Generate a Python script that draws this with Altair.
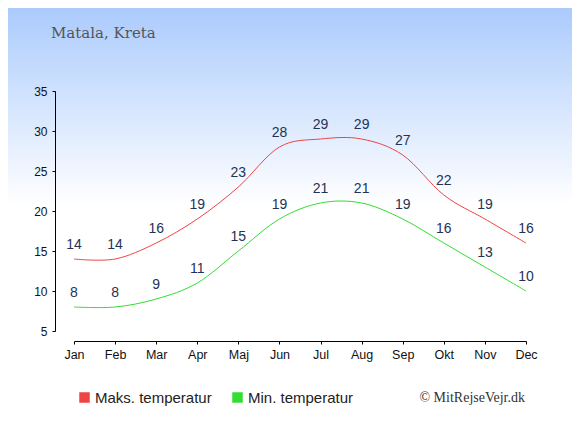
import altair as alt
import pandas as pd

months = ["Jan", "Feb", "Mar", "Apr", "Maj", "Jun", "Jul", "Aug", "Sep", "Okt", "Nov", "Dec"]
max_temp = [14, 14, 16, 19, 23, 28, 29, 29, 27, 22, 19, 16]
min_temp = [8, 8, 9, 11, 15, 19, 21, 21, 19, 16, 13, 10]
series_names = ["Maks. temperatur", "Min. temperatur"]
series_colors = ["#ee4444", "#33dd33"]
y_ticks = [5, 10, 15, 20, 25, 30, 35]
title_text = "Matala, Kreta"
credit_text = "\u00a9 MitRejseVejr.dk"

rows = []
for i, (m, hi, lo) in enumerate(zip(months, max_temp, min_temp)):
    rows.append({"i": i, "month": m, "temp": hi, "series": series_names[0]})
    rows.append({"i": i, "month": m, "temp": lo, "series": series_names[1]})
df = pd.DataFrame(rows)

W, H = 472, 240
PAD_L, PAD_T = 47, 83
TOTAL_W, TOTAL_H = 564, 419

label_expr = "[" + ",".join(f"'{m}'" for m in months) + "][datum.value]"

x_enc = alt.X(
    "i:Q",
    scale=alt.Scale(domain=[0, 11], range=[19, 471], nice=False, zero=False),
    axis=alt.Axis(values=list(range(12)), labelExpr=label_expr, title=None, grid=False,
                  offset=10, tickSize=3, domainColor="#000", tickColor="#000",
                  labelColor="#111", labelFontSize=12.5, labelFont="Liberation Sans",
                  labelPadding=4, labelFlush=False, labelOverlap=False, zindex=2),
)
y_enc = alt.Y(
    "temp:Q",
    scale=alt.Scale(domain=[5, 35], nice=False, zero=False),
    axis=alt.Axis(values=y_ticks, title=None, grid=False, tickSize=3,
                  domainColor="#000", tickColor="#000", labelColor="#111",
                  labelFontSize=12, labelFont="Liberation Sans", labelPadding=5,
                  labelFlush=False, labelOverlap=False, zindex=2),
)

base = alt.Chart(df).encode(x=x_enc, y=y_enc)

bg = alt.Chart(alt.Data(values=[{}])).mark_rect(
    fill=alt.Gradient(
        gradient="linear",
        stops=[alt.GradientStop(offset=0, color="#abcbfc"),
               alt.GradientStop(offset=0.47, color="#ffffff"),
               alt.GradientStop(offset=1, color="#ffffff")],
        x1=0, x2=0, y1=0, y2=1,
    ),
).encode(
    x=alt.value(-PAD_L), x2=alt.value(TOTAL_W - PAD_L),
    y=alt.value(-PAD_T), y2=alt.value(TOTAL_H - PAD_T),
)

lines = base.mark_line(interpolate="cardinal").encode(
    strokeWidth=alt.value(1),
    color=alt.Color(
        "series:N",
        scale=alt.Scale(domain=series_names, range=series_colors),
        legend=alt.Legend(title=None, orient="none", legendX=22, legendY=299,
                          direction="horizontal", symbolType="square", symbolSize=1,
                          symbolStrokeWidth=9.5, labelFont="Liberation Sans",
                          labelFontSize=15, labelColor="#222", labelOffset=3,
                          columnPadding=6, zindex=2),
    ),
)

labels = base.mark_text(dy=-14, fontSize=14, font="Liberation Sans", color="#1f3357",
                        baseline="middle").encode(text="temp:Q")

title = alt.Chart(alt.Data(values=[{"t": title_text}])).mark_text(
    align="left", baseline="alphabetic", font="DejaVu Serif", fontSize=15, color="#555555"
).encode(x=alt.value(-4), y=alt.value(-53), text="t:N")

credit = alt.Chart(alt.Data(values=[{"t": credit_text}])).mark_text(
    align="right", baseline="alphabetic", font="Liberation Serif", fontSize=14, color="#333333"
).encode(x=alt.value(470), y=alt.value(311), text="t:N")

chart = alt.layer(bg, lines, labels, title, credit).properties(
    width=W, height=H,
    padding={"left": PAD_L, "top": PAD_T, "right": TOTAL_W - PAD_L - W, "bottom": TOTAL_H - PAD_T - H},
    autosize=alt.AutoSizeParams(type="none"),
    background="white",
).configure_view(stroke=None)

chart.save("out.html", embed_options={"renderer": "svg", "actions": False})
